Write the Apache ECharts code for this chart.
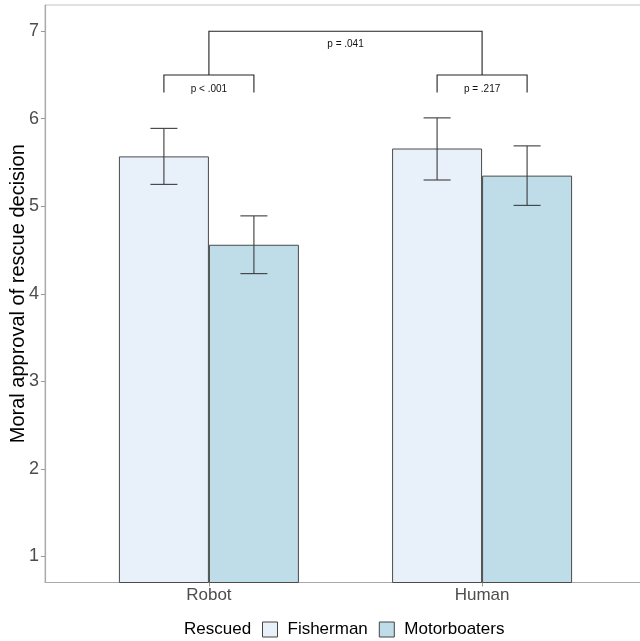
<!DOCTYPE html>
<html>
<head>
<meta charset="utf-8">
<script src="https://cdn.jsdelivr.net/npm/echarts@6/dist/echarts.min.js"></script>
<style>
html,body{margin:0;padding:0;background:#fff;}
#chart{width:640px;height:641px;}
</style>
</head>
<body>
<div id="chart"></div>
<script>
// ---- data ----
const categories = ['Robot', 'Human'];
const groups = ['Fisherman', 'Motorboaters'];
const fishermanMean = [5.57, 5.66];
const fishermanLow  = [5.25, 5.30];
const fishermanHigh = [5.89, 6.01];
const motorMean = [4.56, 5.35];
const motorLow  = [4.23, 5.01];
const motorHigh = [4.89, 5.69];
const yTicks = [1, 2, 3, 4, 5, 6, 7];
// within-category comparisons (Fisherman vs Motorboaters)
const withinLabels = ['p < .001', 'p = .217'];
const withinLevel = [6.5, 6.5];
const withinTip = [6.3, 6.3];
// between-category comparison (Robot vs Human)
const betweenLabel = 'p = .041';
const betweenLevel = 7.0;
const betweenTip = 6.5;

const FONT = '"Liberation Sans", Arial, Helvetica, sans-serif';
const BAR_W = 90;
const CAP_HALF = 13.5;
const colors = ['#e8f0fa', '#bfdce9'];
const lineColor = '#3c3c3c';

const catPos = categories.map((c, i) => i + 1);

function errorSeries(name, low, high, offset) {
  return {
    type: 'custom',
    name: name + ' error',
    silent: true,
    z: 5,
    data: catPos.map((x, i) => [x, low[i], high[i]]),
    encode: { x: 0, y: [1, 2] },
    renderItem: function (params, api) {
      const x = api.value(0);
      const pLo = api.coord([x, api.value(1)]);
      const pHi = api.coord([x, api.value(2)]);
      const cx = pLo[0] + offset;
      const st = { stroke: lineColor, lineWidth: 1.1 };
      return {
        type: 'group',
        children: [
          { type: 'line', shape: { x1: cx, y1: pLo[1], x2: cx, y2: pHi[1] }, style: st },
          { type: 'line', shape: { x1: cx - CAP_HALF, y1: pLo[1], x2: cx + CAP_HALF, y2: pLo[1] }, style: st },
          { type: 'line', shape: { x1: cx - CAP_HALF, y1: pHi[1], x2: cx + CAP_HALF, y2: pHi[1] }, style: st }
        ]
      };
    }
  };
}

const chart = echarts.init(document.getElementById('chart'), null, { renderer: 'canvas' });

const option = {
  animation: false,
  textStyle: { fontFamily: FONT },
  grid: {
    left: 45, top: 5, right: -6, bottom: 58.5,
    outerBoundsMode: 'none',
    containLabel: false,
    show: true, borderColor: '#c4c4c4', borderWidth: 1, backgroundColor: 'transparent'
  },
  xAxis: {
    type: 'value',
    min: 0.4, max: 2.6,
    splitLine: { show: false },
    axisLine: { show: true, onZero: false, lineStyle: { color: '#aaaaaa', width: 1.2 } },
    axisTick: { show: true, customValues: catPos, length: 4, lineStyle: { color: '#999999' } },
    axisLabel: {
      customValues: catPos,
      formatter: function (v) { return categories[Math.round(v) - 1]; },
      fontSize: 17, color: '#4d4d4d', margin: 4, fontFamily: FONT
    }
  },
  yAxis: {
    type: 'value',
    min: 0.7, max: 7.3,
    name: 'Moral approval of rescue decision',
    nameLocation: 'middle',
    nameRotate: 90,
    nameGap: 17,
    nameMoveOverlap: false,
    nameTextStyle: { fontSize: 20, color: '#000', fontFamily: FONT },
    splitLine: { show: false },
    axisLine: { show: true, onZero: false, lineStyle: { color: '#aaaaaa', width: 1.2 } },
    axisTick: { show: true, customValues: yTicks, length: 4, lineStyle: { color: '#999999' } },
    axisLabel: { customValues: yTicks, fontSize: 18, color: '#4d4d4d', margin: 6, fontFamily: FONT }
  },
  legend: {
    left: 262, top: 621,
    padding: 0,
    itemWidth: 15, itemHeight: 15, itemGap: 11,
    icon: 'rect',
    data: groups,
    itemStyle: { borderColor: '#444', borderWidth: 1 },
    textStyle: { fontSize: 17, color: '#000', padding: [0, 0, 0, 5], fontFamily: FONT }
  },
  graphic: [
    { type: 'text', left: 184, top: 621, style: { text: 'Rescued', fontSize: 17, fill: '#000', font: '17px ' + FONT } }
  ],
  series: [
    {
      type: 'bar', name: groups[0],
      data: catPos.map((x, i) => [x, fishermanMean[i]]),
      barWidth: BAR_W, barGap: '0%', clip: true,
      itemStyle: { color: colors[0], borderColor: '#4a4a4a', borderWidth: 1 }
    },
    {
      type: 'bar', name: groups[1],
      data: catPos.map((x, i) => [x, motorMean[i]]),
      barWidth: BAR_W, barGap: '0%', clip: true,
      itemStyle: { color: colors[1], borderColor: '#4a4a4a', borderWidth: 1 }
    },
    errorSeries(groups[0], fishermanLow, fishermanHigh, -BAR_W / 2),
    errorSeries(groups[1], motorLow, motorHigh, BAR_W / 2),
    {
      type: 'custom',
      name: 'within',
      silent: true,
      z: 6,
      data: catPos.map((x, i) => [x, withinLevel[i], withinTip[i]]),
      encode: { x: 0, y: [1, 2] },
      renderItem: function (params, api) {
        const i = params.dataIndex;
        const x = api.value(0);
        const pTop = api.coord([x, api.value(1)]);
        const pTip = api.coord([x, api.value(2)]);
        const x1 = pTop[0] - BAR_W / 2, x2 = pTop[0] + BAR_W / 2;
        const st = { stroke: '#222', lineWidth: 1.1, fill: null };
        return {
          type: 'group',
          children: [
            { type: 'polyline', shape: { points: [[x1, pTip[1]], [x1, pTop[1]], [x2, pTop[1]], [x2, pTip[1]]] }, style: st },
            { type: 'text', x: pTop[0], y: (pTop[1] + pTip[1]) / 2 + 5,
              style: { text: withinLabels[i], font: '10px ' + FONT, fill: '#111', align: 'center', verticalAlign: 'middle' } }
          ]
        };
      }
    },
    {
      type: 'custom',
      name: 'between',
      silent: true,
      z: 6,
      data: [[catPos[0], catPos[1], betweenLevel, betweenTip]],
      encode: { x: [0, 1], y: [2, 3] },
      renderItem: function (params, api) {
        const pA = api.coord([api.value(0), api.value(2)]);
        const pB = api.coord([api.value(1), api.value(2)]);
        const tipY = api.coord([api.value(0), api.value(3)])[1];
        const st = { stroke: '#222', lineWidth: 1.1, fill: null };
        return {
          type: 'group',
          children: [
            { type: 'polyline', shape: { points: [[pA[0], tipY], [pA[0], pA[1]], [pB[0], pB[1]], [pB[0], tipY]] }, style: st },
            { type: 'text', x: (pA[0] + pB[0]) / 2, y: pA[1] + 13,
              style: { text: betweenLabel, font: '10px ' + FONT, fill: '#111', align: 'center', verticalAlign: 'middle' } }
          ]
        };
      }
    }
  ]
};
chart.setOption(option);
</script>
</body>
</html>
